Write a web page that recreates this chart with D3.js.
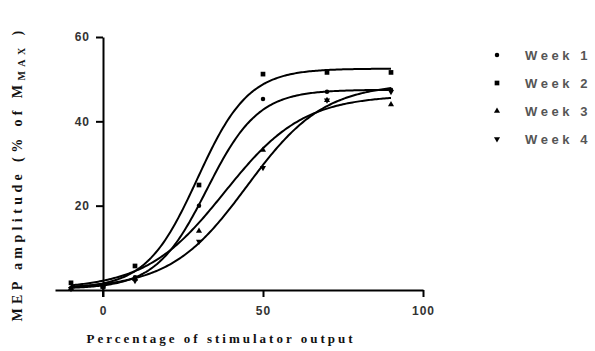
<!DOCTYPE html>
<html>
<head>
<meta charset="utf-8">
<script src="https://cdn.jsdelivr.net/npm/d3@7"></script>
<style>
  body { margin: 0; background: #fff; }
  svg { display: block; }
</style>
</head>
<body>
<div id="chart"></div>
<script>
// stimulus levels (% of stimulator output)
const stimLevels = [-10, 0, 10, 30, 50, 70, 90];

// MEP amplitude (% of Mmax) per week
const week1 = [0.5, 0.8, 3.0, 20.0, 45.3, 47.0, 47.5];
const week2 = [1.7, 0.9, 5.7, 24.9, 51.2, 51.6, 51.6];
const week3 = [0.4, 0.8, 2.6, 14.0, 33.2, 45.0, 44.0];
const week4 = [0.3, 0.6, 2.2, 11.5, 29.0, 45.0, 47.0];

// Boltzmann fit parameters: [bottom, top, V50, slope]
const fit1 = [0.3, 47.5, 32.5, 8];
const fit2 = [0.3, 52.5, 29.5, 8];
const fit3 = [0.2, 46.2, 38, 12.3];
const fit4 = [0.3, 49, 45, 12];

const seriesNames = ["Week 1", "Week 2", "Week 3", "Week 4"];
const seriesSymbols = [d3.symbolCircle, d3.symbolSquare, d3.symbolTriangle, d3.symbolTriangle];

const xTicks = [0, 50, 100];
const yTicks = [0, 20, 40, 60];

const W = 595, H = 351;

const series = [week1, week2, week3, week4].map((vals, i) => ({
    name: seriesNames[i],
    symbol: seriesSymbols[i],
    flip: i === 3,
    fit: [fit1, fit2, fit3, fit4][i],
    points: stimLevels.map((x, j) => ({x: x, y: vals[j]}))
}));

const svg = d3.select("#chart").append("svg")
    .attr("width", W)
    .attr("height", H);

const x = d3.scaleLinear().domain([-15, 100]).range([55, 423]);
const y = d3.scaleLinear().domain([0, 60]).range([290, 37]);

const boltz = (p, v) => p[0] + (p[1] - p[0]) / (1 + Math.exp((p[2] - v) / p[3]));

// fitted curves
const line = d3.line()
    .x(d => x(d[0]))
    .y(d => y(d[1]));

const samples = d3.range(-10, 90.01, 0.5);

svg.append("g")
    .attr("fill", "none")
    .attr("stroke", "#000")
    .attr("stroke-width", 2)
  .selectAll("path")
  .data(series)
  .join("path")
    .attr("d", s => line(samples.map(v => [v, boltz(s.fit, v)])));

// data points
svg.append("g")
  .selectAll("g")
  .data(series)
  .join("g")
  .selectAll("path")
  .data(s => s.points.map(p => Object.assign({s: s}, p)))
  .join("path")
    .attr("transform", d => `translate(${x(d.x)},${y(d.y)})` + (d.s.flip ? " rotate(180)" : ""))
    .attr("d", d => d3.symbol().type(d.s.symbol).size(d.s.symbol === d3.symbolSquare ? 22 : 16)())
    .attr("fill", "#000");

// axes
const tickFont = "bold 12px 'Liberation Sans', Arial, sans-serif";

const xAxis = svg.append("g")
    .attr("transform", `translate(0,${y(0)})`)
    .call(d3.axisBottom(x).tickValues(xTicks).tickSize(7).tickSizeOuter(0).tickPadding(9));
xAxis.select(".domain").attr("stroke-width", 2);

const yAxis = svg.append("g")
    .attr("transform", `translate(${x(0)},0)`)
    .call(d3.axisLeft(y).tickValues(yTicks.filter(t => t > 0)).tickSize(7).tickSizeOuter(0).tickPadding(6));
yAxis.select(".domain").attr("stroke-width", 2);

svg.selectAll(".tick line").attr("stroke-width", 2);
svg.selectAll(".tick text")
    .style("font", tickFont)
    .attr("fill", "#333")
    .style("letter-spacing", "1px");

// y axis zero tick extends below the x axis
svg.append("line")
    .attr("x1", x(0)).attr("x2", x(0))
    .attr("y1", y(0)).attr("y2", y(0) + 7)
    .attr("stroke", "#000").attr("stroke-width", 2);

// axis titles
svg.append("text")
    .attr("x", 221)
    .attr("y", 343)
    .attr("text-anchor", "middle")
    .style("font", "bold 13px 'Liberation Serif', 'Times New Roman', serif")
    .style("letter-spacing", "3px")
    .attr("fill", "#111")
    .text("Percentage of stimulator output");

const yt = svg.append("text")
    .attr("transform", "translate(22,174) rotate(-90)")
    .attr("text-anchor", "middle")
    .style("font", "bold 14px 'Liberation Serif', 'Times New Roman', serif")
    .style("letter-spacing", "4.4px")
    .attr("fill", "#111");
yt.append("tspan").text("MEP amplitude (% of M");
yt.append("tspan").attr("font-size", "10px").attr("dy", 3).text("MAX");
yt.append("tspan").attr("dy", -3).text(" )");

// legend
const legend = svg.append("g")
  .selectAll("g")
  .data(series)
  .join("g")
    .attr("transform", (d, i) => `translate(497,${55 + i * 28})`);

legend.append("path")
    .attr("transform", d => d.flip ? "rotate(180)" : null)
    .attr("d", d => d3.symbol().type(d.symbol).size(d.symbol === d3.symbolSquare ? 22 : 16)())
    .attr("fill", "#000");

legend.append("text")
    .attr("x", 28)
    .attr("y", 5)
    .style("font", "bold 13px 'Liberation Sans', Arial, sans-serif")
    .style("letter-spacing", "3.6px")
    .attr("fill", "#555")
    .text(d => d.name);
</script>
</body>
</html>
